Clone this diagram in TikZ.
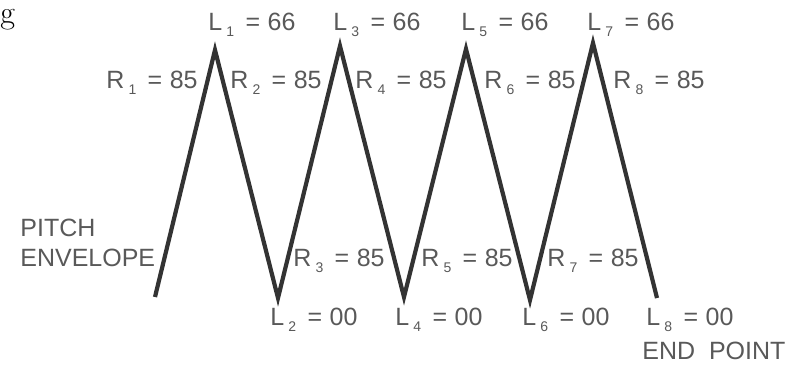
\documentclass[tikz,border=0pt]{standalone}
\usepackage{fontspec}
\newfontfamily\envfont{Liberation Sans}
\newcommand{\lidx}[1]{\,\raisebox{-0.45ex}{\fontsize{7}{8}\selectfont #1}\hspace{0.3em}}
\newcommand{\eqs}{\hspace{0.15em}=\hspace{0.3em}}
\begin{document}
\begin{tikzpicture}[x=0.5pt,y=-0.5pt,
    lab/.style={inner sep=0pt,text=black!65,font=\envfont\fontsize{12.5}{15}\selectfont}]
    \useasboundingbox (0,0) rectangle (788,365);
            %figure letter
            \node[anchor=west,inner sep=0pt,font=\fontsize{16}{19}\selectfont] (fig) at (0,20) {g};
            %vertici della curva
            \coordinate (p0) at (155,297);
            \coordinate (p1) at (215,50);
            \coordinate (p2) at (278,298);
            \coordinate (p3) at (340,46);
            \coordinate (p4) at (404,297);
            \coordinate (p5) at (466,49);
            \coordinate (p6) at (530,300);
            \coordinate (p7) at (593,43);
            \coordinate (p8) at (657,298);
            %envelope
            \draw[line width=2.1pt,black!80,line join=miter] (p0) -- (p1) -- (p2) -- (p3) -- (p4)
                 -- (p5) -- (p6) -- (p7) -- (p8);
            %levels
            \node[lab,anchor=west] (l1) at (208,25) {L\lidx{1}\eqs 66};
            \node[lab,anchor=west] (l3) at (333,25) {L\lidx{3}\eqs 66};
            \node[lab,anchor=west] (l5) at (461,25) {L\lidx{5}\eqs 66};
            \node[lab,anchor=west] (l7) at (587,25) {L\lidx{7}\eqs 66};
            \node[lab,anchor=west] (l2) at (270,320) {L\lidx{2}\eqs 00};
            \node[lab,anchor=west] (l4) at (395,320) {L\lidx{4}\eqs 00};
            \node[lab,anchor=west] (l6) at (522,320) {L\lidx{6}\eqs 00};
            \node[lab,anchor=west] (l8) at (646,320) {L\lidx{8}\eqs 00};
            %rates
            \node[lab,anchor=east] (r1) at (198,83) {R\lidx{1}\eqs 85};
            \node[lab,anchor=west] (r2) at (230,83) {R\lidx{2}\eqs 85};
            \node[lab,anchor=west] (r4) at (355,83) {R\lidx{4}\eqs 85};
            \node[lab,anchor=west] (r6) at (484,83) {R\lidx{6}\eqs 85};
            \node[lab,anchor=west] (r8) at (613,83) {R\lidx{8}\eqs 85};
            \node[lab,anchor=west] (r3) at (293,261) {R\lidx{3}\eqs 85};
            \node[lab,anchor=west] (r5) at (421,261) {R\lidx{5}\eqs 85};
            \node[lab,anchor=west] (r7) at (547,261) {R\lidx{7}\eqs 85};
            %text
            \node[lab,anchor=west,align=left] (env) at (20,243) {PITCH\\ENVELOPE};
            \node[lab,anchor=west] (endp) at (642,351) {END\ \ POINT};
    \end{tikzpicture}
\end{document}
